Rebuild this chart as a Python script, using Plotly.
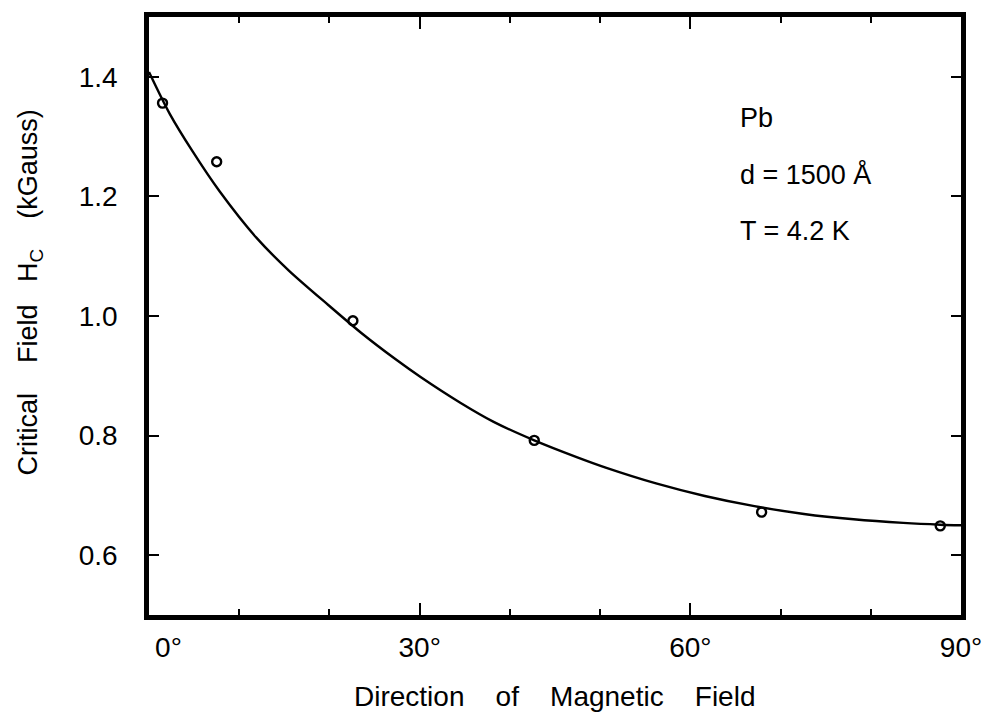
import plotly.graph_objects as go

# Measured data points (angle in degrees, critical field in kGauss)
angle_pts = [1.5, 7.5, 22.6, 42.7, 67.9, 87.7]
hc_pts = [1.356, 1.258, 0.992, 0.792, 0.672, 0.649]

# Drawn theoretical curve
angle_curve = [0, 2.3, 4.8, 7.8, 11.9, 15.5, 19.9, 23.5, 27.3, 30.1, 34.5, 38.2, 42.7, 47.4,
               50.7, 56.2, 61.6, 67.1, 72.6, 78.1, 83.6, 87.7, 90]
hc_curve = [1.408, 1.338, 1.276, 1.209, 1.131, 1.076, 1.018, 0.972, 0.928, 0.898, 0.855, 0.823,
            0.792, 0.764, 0.746, 0.720, 0.699, 0.682, 0.669, 0.660, 0.654, 0.651, 0.650]

x_tickvals = [0, 30, 60, 90]
x_ticktext = ["\u00a0\u00a0\u00a0\u00a0\u00a00°", "30°", "60°", "90°"]
y_tickvals = [0.6, 0.8, 1.0, 1.2, 1.4]
y_ticktext = ["0.6", "0.8", "1.0", "1.2", "1.4"]

info_lines = ["Pb", "d = 1500 Å", "T = 4.2 K"]
info_y = [1.331, 1.236, 1.142]

x_title = "Direction\u00a0\u00a0\u00a0\u00a0of\u00a0\u00a0\u00a0\u00a0Magnetic\u00a0\u00a0\u00a0\u00a0Field"
y_title = "Critical\u00a0\u00a0\u00a0\u00a0Field\u00a0\u00a0\u00a0H<sub>C</sub>\u00a0\u00a0\u00a0\u00a0(kGauss)"

FONT = "Liberation Sans, Arial, sans-serif"

fig = go.Figure()
fig.add_trace(go.Scatter(x=angle_curve, y=hc_curve, mode="lines",
                         line=dict(color="black", width=2.4, shape="spline", smoothing=0.8),
                         showlegend=False, hoverinfo="skip"))
fig.add_trace(go.Scatter(x=angle_pts, y=hc_pts, mode="markers",
                         marker=dict(symbol="circle-open", size=9, color="black",
                                     line=dict(width=2.4, color="black")),
                         showlegend=False))

for txt, yy in zip(info_lines, info_y):
    fig.add_annotation(x=65.3, y=yy, xref="x", yref="y", text=txt, showarrow=False,
                       xanchor="left", yanchor="middle",
                       font=dict(family=FONT, size=27, color="black"))

# axis titles placed as annotations for exact positioning
fig.add_annotation(x=0.5, y=-0.137, xref="paper", yref="paper", text=x_title, showarrow=False,
                   xanchor="center", yanchor="middle",
                   font=dict(family=FONT, size=28, color="black"))
fig.add_annotation(x=-0.146, y=0.54, xref="paper", yref="paper", text=y_title, showarrow=False,
                   textangle=-90, xanchor="center", yanchor="middle",
                   font=dict(family=FONT, size=27, color="black"))

fig.update_xaxes(range=[0, 90], tickmode="array", tickvals=x_tickvals, ticktext=x_ticktext,
                 ticks="inside", ticklen=12, tickwidth=2, tickcolor="black",
                 minor=dict(dtick=10, tick0=0, ticks="inside", ticklen=6, tickwidth=2,
                            tickcolor="black", showgrid=False),
                 showline=True, linewidth=4.5, linecolor="black", mirror="allticks",
                 showgrid=False, zeroline=False, ticklabelstandoff=4,
                 tickfont=dict(family=FONT, size=28, color="black"))

fig.update_yaxes(range=[0.5, 1.5], tickmode="array", tickvals=y_tickvals, ticktext=y_ticktext,
                 ticks="inside", ticklen=10, tickwidth=2, tickcolor="black",
                 showline=True, linewidth=4.5, linecolor="black", mirror="allticks",
                 showgrid=False, zeroline=False, ticklabelstandoff=21,
                 tickfont=dict(family=FONT, size=28, color="black"))

fig.update_layout(width=994, height=713, plot_bgcolor="white", paper_bgcolor="white",
                  margin=dict(l=149, r=26, t=16, b=98))

fig.write_html("out.html")
